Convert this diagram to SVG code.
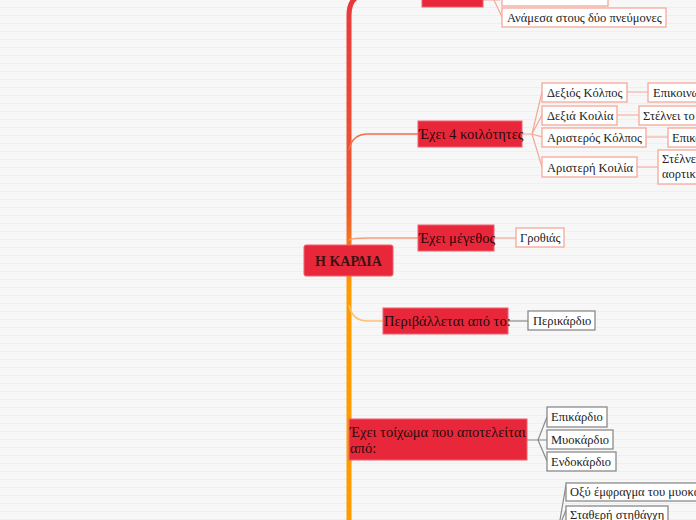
<svg xmlns="http://www.w3.org/2000/svg" width="696" height="520" viewBox="0 0 696 520">
<defs>
<pattern id="bg" width="696" height="8" patternUnits="userSpaceOnUse"><rect width="696" height="8" fill="#f7f7f7"/><line x1="0" y1="7.5" x2="696" y2="7.5" stroke="#efefef" stroke-width="1"/></pattern>
<linearGradient id="trunk" x1="0" y1="0" x2="0" y2="520" gradientUnits="userSpaceOnUse"><stop offset="0" stop-color="#e8383c"/><stop offset="0.4" stop-color="#ee5a30"/><stop offset="0.55" stop-color="#ff9a00"/><stop offset="1" stop-color="#ff9a00"/></linearGradient>
</defs>
<style>
text{font-family:"Liberation Serif","DejaVu Serif",serif;}
.main rect{fill:#e8283a;stroke:#f06070;stroke-width:1}
.main text{font-size:14.5px;fill:#2a0a0a}
.sub rect{fill:#ffffff;stroke:#f4a898;stroke-width:1.3}
.sub text{font-size:12.5px;fill:#222}
.gray rect{stroke:#8a8a8a}
.c{fill:none;stroke:#f4a898;stroke-width:1.2}
.cg{fill:none;stroke:#8a8a8a;stroke-width:1.2}
</style>
<rect width="696" height="520" fill="url(#bg)"/>
<g id="connectors">
<path d="M349,520 V15 Q349,0 360,-5" stroke="url(#trunk)" stroke-width="5" fill="none"/>
<path d="M349,150 Q352,134 368,134 H418" stroke="#f07050" stroke-width="1.5" fill="none"/>
<path d="M349,240 Q352,238 368,238 H418" stroke="#f4a080" stroke-width="1.5" fill="none"/>
<path d="M349,305 Q352,321 368,321 H383" stroke="#ffc070" stroke-width="1.5" fill="none"/>
<path class="c" d="M483,0 L500,0 M494,0 L502,17"/>
<path class="c" d="M522,134 H532 M532,134 L542,92 M532,134 L542,115 M532,134 L542,137 M532,134 L542,167"/>
<path class="c" d="M627,92 H648 M617,115 H639 M646,137 H668 M637,167 H658"/>
<path class="c" d="M494,238 H516"/>
<path class="cg" d="M508,321 H528"/>
<path class="cg" d="M527,440 H538 M538,440 L547,417 M538,440 L547,440 M538,440 L547,461"/>
<path class="cg" d="M566,485 L560,520 M566,510 L562,520"/>
</g>
<g id="root" class="main"><rect x="304" y="245" width="89" height="31" rx="2"/><text x="348.5" y="266" text-anchor="middle" font-weight="bold" style="font-size:14px;fill:#3a1410">Η ΚΑΡΔΙΑ</text></g>
<g id="n-top" class="main"><rect x="422" y="-10" width="61" height="17"/></g>
<g id="n-top-c1" class="sub"><rect x="502" y="-10" width="106" height="16"/></g>
<g id="n-top-c2" class="sub"><rect x="502" y="8" width="164" height="19"/><text x="507" y="22">Ανάμεσα στους δύο πνεύμονες</text></g>
<g id="n-koil" class="main"><rect x="418" y="121" width="104" height="26"/><text x="419" y="139">Έχει 4 κοιλότητες</text></g>
<g id="n-dk" class="sub"><rect x="542" y="83" width="85" height="19"/><text x="547" y="97">Δεξιός Κόλπος</text></g>
<g id="n-dki" class="sub"><rect x="542" y="106" width="75" height="19"/><text x="547" y="120">Δεξιά Κοιλία</text></g>
<g id="n-ak" class="sub"><rect x="542" y="128" width="104" height="19"/><text x="547" y="142">Αριστερός Κόλπος</text></g>
<g id="n-aki" class="sub"><rect x="542" y="157" width="95" height="20"/><text x="547" y="172">Αριστερή Κοιλία</text></g>
<g id="n-dk-c" class="sub"><rect x="648" y="83" width="60" height="19"/><text x="653" y="97">Επικοινωνεί</text></g>
<g id="n-dki-c" class="sub"><rect x="639" y="106" width="70" height="19"/><text x="643" y="120">Στέλνει το</text></g>
<g id="n-ak-c" class="sub"><rect x="668" y="128" width="40" height="19"/><text x="672" y="142">Επικοινωνεί</text></g>
<g id="n-aki-c" class="sub"><rect x="658" y="150" width="50" height="34"/><text x="662" y="163">Στέλνει</text><text x="662" y="178">αορτική</text></g>
<g id="n-meg" class="main"><rect x="418" y="225" width="76" height="26"/><text x="419" y="243">Έχει μέγεθος</text></g>
<g id="n-groth" class="sub"><rect x="516" y="228" width="48" height="19"/><text x="520" y="242">Γροθιάς</text></g>
<g id="n-peri" class="main"><rect x="383" y="308" width="125" height="26"/><text x="384" y="326">Περιβάλλεται από το:</text></g>
<g id="n-perik" class="sub gray"><rect x="528" y="311" width="67" height="19"/><text x="533" y="325">Περικάρδιο</text></g>
<g id="n-toix" class="main"><rect x="349" y="419" width="178" height="41"/><text x="350" y="437">Έχει τοίχωμα που αποτελείται</text><text x="350" y="453">από:</text></g>
<g id="n-epi" class="sub gray"><rect x="547" y="407" width="60" height="20"/><text x="551" y="421">Επικάρδιο</text></g>
<g id="n-myo" class="sub gray"><rect x="547" y="430" width="66" height="19"/><text x="551" y="444">Μυοκάρδιο</text></g>
<g id="n-endo" class="sub gray"><rect x="547" y="452" width="69" height="19"/><text x="551" y="466">Ενδοκάρδιο</text></g>
<g id="n-oxy" class="sub gray"><rect x="566" y="483" width="140" height="18"/><text x="570" y="496">Οξύ έμφραγμα του μυοκαρδίου</text></g>
<g id="n-stath" class="sub gray"><rect x="566" y="506" width="102" height="18"/><text x="570" y="519">Σταθερή στηθάγχη</text></g>
</svg>
